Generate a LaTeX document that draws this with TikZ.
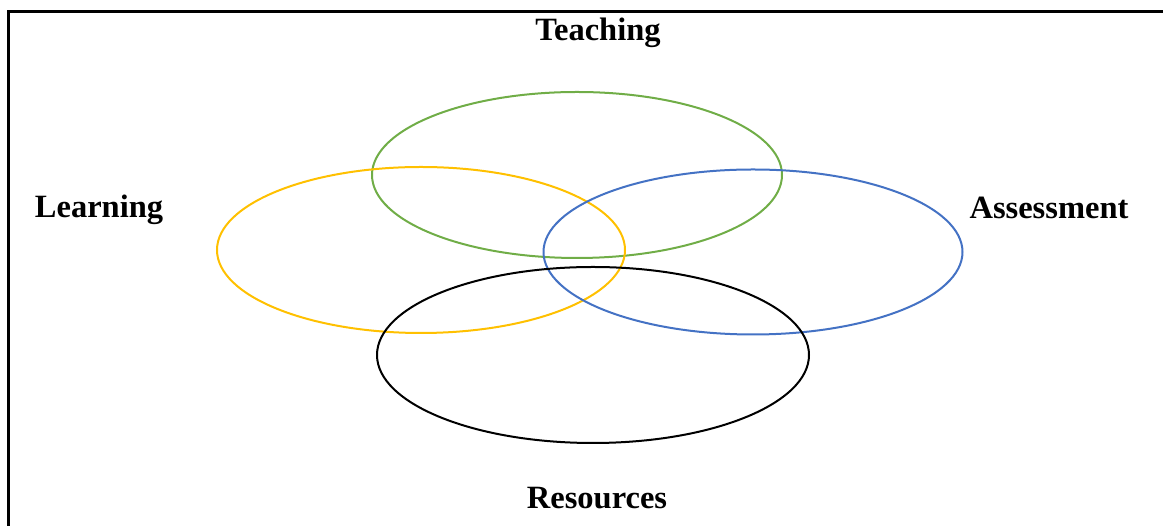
\documentclass[tikz,border=0pt]{standalone}
\usepackage{fontspec}
\setmainfont{Liberation Serif}
\begin{document}
\begin{tikzpicture}[x=1pt,y=1pt,
    lbl/.style={font=\fontsize{32.5}{38}\selectfont\bfseries},
    ring/.style={line width=2pt}]
    \useasboundingbox (0,0) rectangle (1163,526);
    \coordinate (G) at (577,351);
    \coordinate (Y) at (421,276);
    \coordinate (B) at (753,274);
    \coordinate (K) at (593,171);

    % Frame (only top and left edges show).
    \draw [line width=3pt] (8,0) -- (8,514) -- (1163,514);

    \draw [ring, color={rgb,255:red,112;green,173;blue,71}] (G) ellipse (205 and 83);
    \draw [ring, color={rgb,255:red,255;green,192;blue,0}] (Y) ellipse (204 and 83);
    \draw [ring, color={rgb,255:red,68;green,114;blue,196}] (B) ellipse (209.5 and 82.5);
    \draw [ring, black] (K) ellipse (216 and 88);

    % Label the sets.
    \node [lbl] (teach) at (598,493) {Teaching};
    \node [lbl] (learn) at (99,316) {Learning};
    \node [lbl] (assess) at (1049,318) {Assessment};
    \node [lbl] (res) at (597,28) {Resources};
\end{tikzpicture}
\end{document}
